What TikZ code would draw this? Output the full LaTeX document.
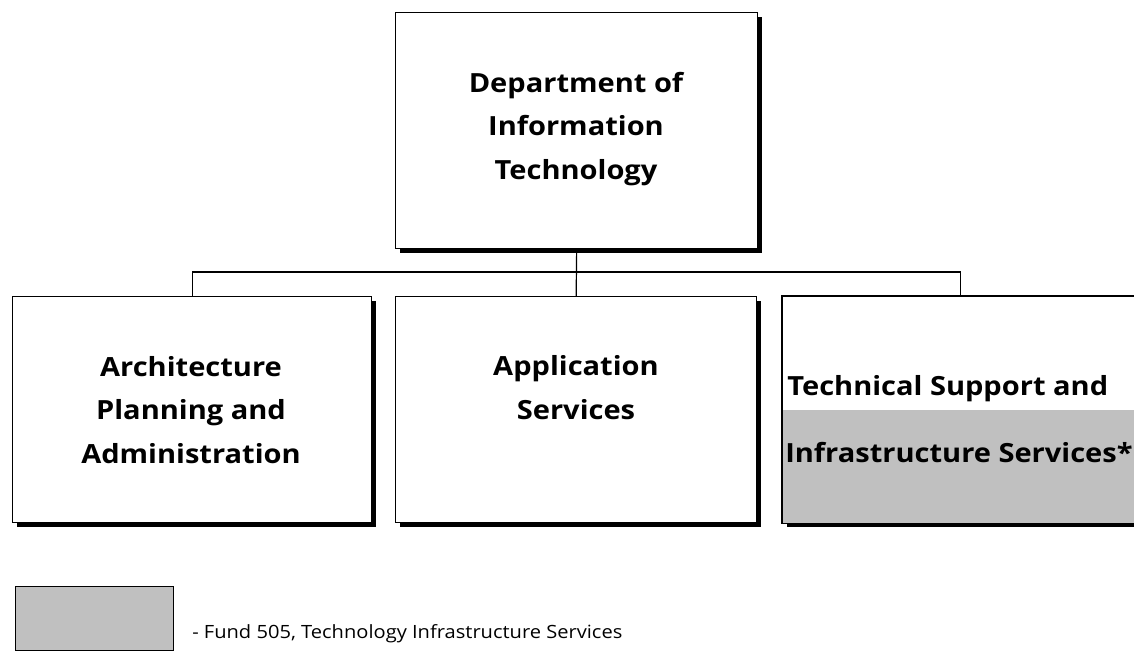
\documentclass[tikz,border=0pt]{standalone}
\usepackage{fontspec}
\setmainfont{Open Sans}[FakeStretch=1.1]
\usetikzlibrary{positioning,shadows}
\definecolor{fundgray}{HTML}{C0C0C0}
\newcommand{\unitfont}{\fontsize{19.8}{32.6}\selectfont\bfseries}
\newcommand{\keyfont}{\fontsize{13.7}{16}\selectfont}

\begin{document}
\begin{tikzpicture}[x=0.75pt,y=-0.75pt,
  unitbox/.style={draw=black,line width=1pt,fill=white,anchor=north west,inner sep=0pt,
    minimum height=226*0.75pt,
    drop shadow={shadow xshift=3.4pt,shadow yshift=-3.4pt,fill=black,opacity=1}},
  unittext/.style={font=\unitfont,align=center,inner sep=0pt},
  link/.style={draw=black,line width=0.9pt}]
  \clip (0,0) rectangle (1134,654);
  % department and its three units
  \node[unitbox,minimum width=362*0.75pt,minimum height=236*0.75pt] (dept) at (395,12) {};
  \node[unitbox,minimum width=359*0.75pt] (apa) at (12,296) {};
  \node[unitbox,minimum width=361*0.75pt] (aps) at (395,296) {};
  \node[unitbox,minimum width=356*0.75pt] (tsis) at (782,296) {};
  % fund 505 part of the unit
  \fill[fundgray] (782,410) rectangle (tsis.south east);
  \draw[line width=1pt] (tsis.north west) rectangle (tsis.south east);
  \node[unittext,anchor=base] (depttext) at (576,179) {Department of\\Information\\Technology};
  \node[unittext,anchor=base] (apatext) at (191,463) {Architecture\\Planning and\\Administration};
  \node[unittext,anchor=base] (apstext) at (576,419) {Application\\Services};
  \node[unittext,anchor=base west] (tsistop) at (787,395) {Technical Support and};
  \node[unittext,anchor=base west] (tsisbot) at (785,462) {Infrastructure Services*};
  % org lines
  \coordinate (bus) at (576,272);
  \draw[link] (dept.south) -- (aps.north);
  \draw[link] (apa.north) |- (bus) -| (tsis.north);
  % legend
  \node[draw=black,line width=1pt,fill=fundgray,anchor=north west,inner sep=0pt,
        minimum width=158*0.75pt,minimum height=64*0.75pt] (key) at (15,586) {};
  \node[font=\keyfont,anchor=base west,inner sep=0pt] (keytext) at (192,638)
        {- Fund 505, Technology Infrastructure Services};
\end{tikzpicture}
\end{document}
